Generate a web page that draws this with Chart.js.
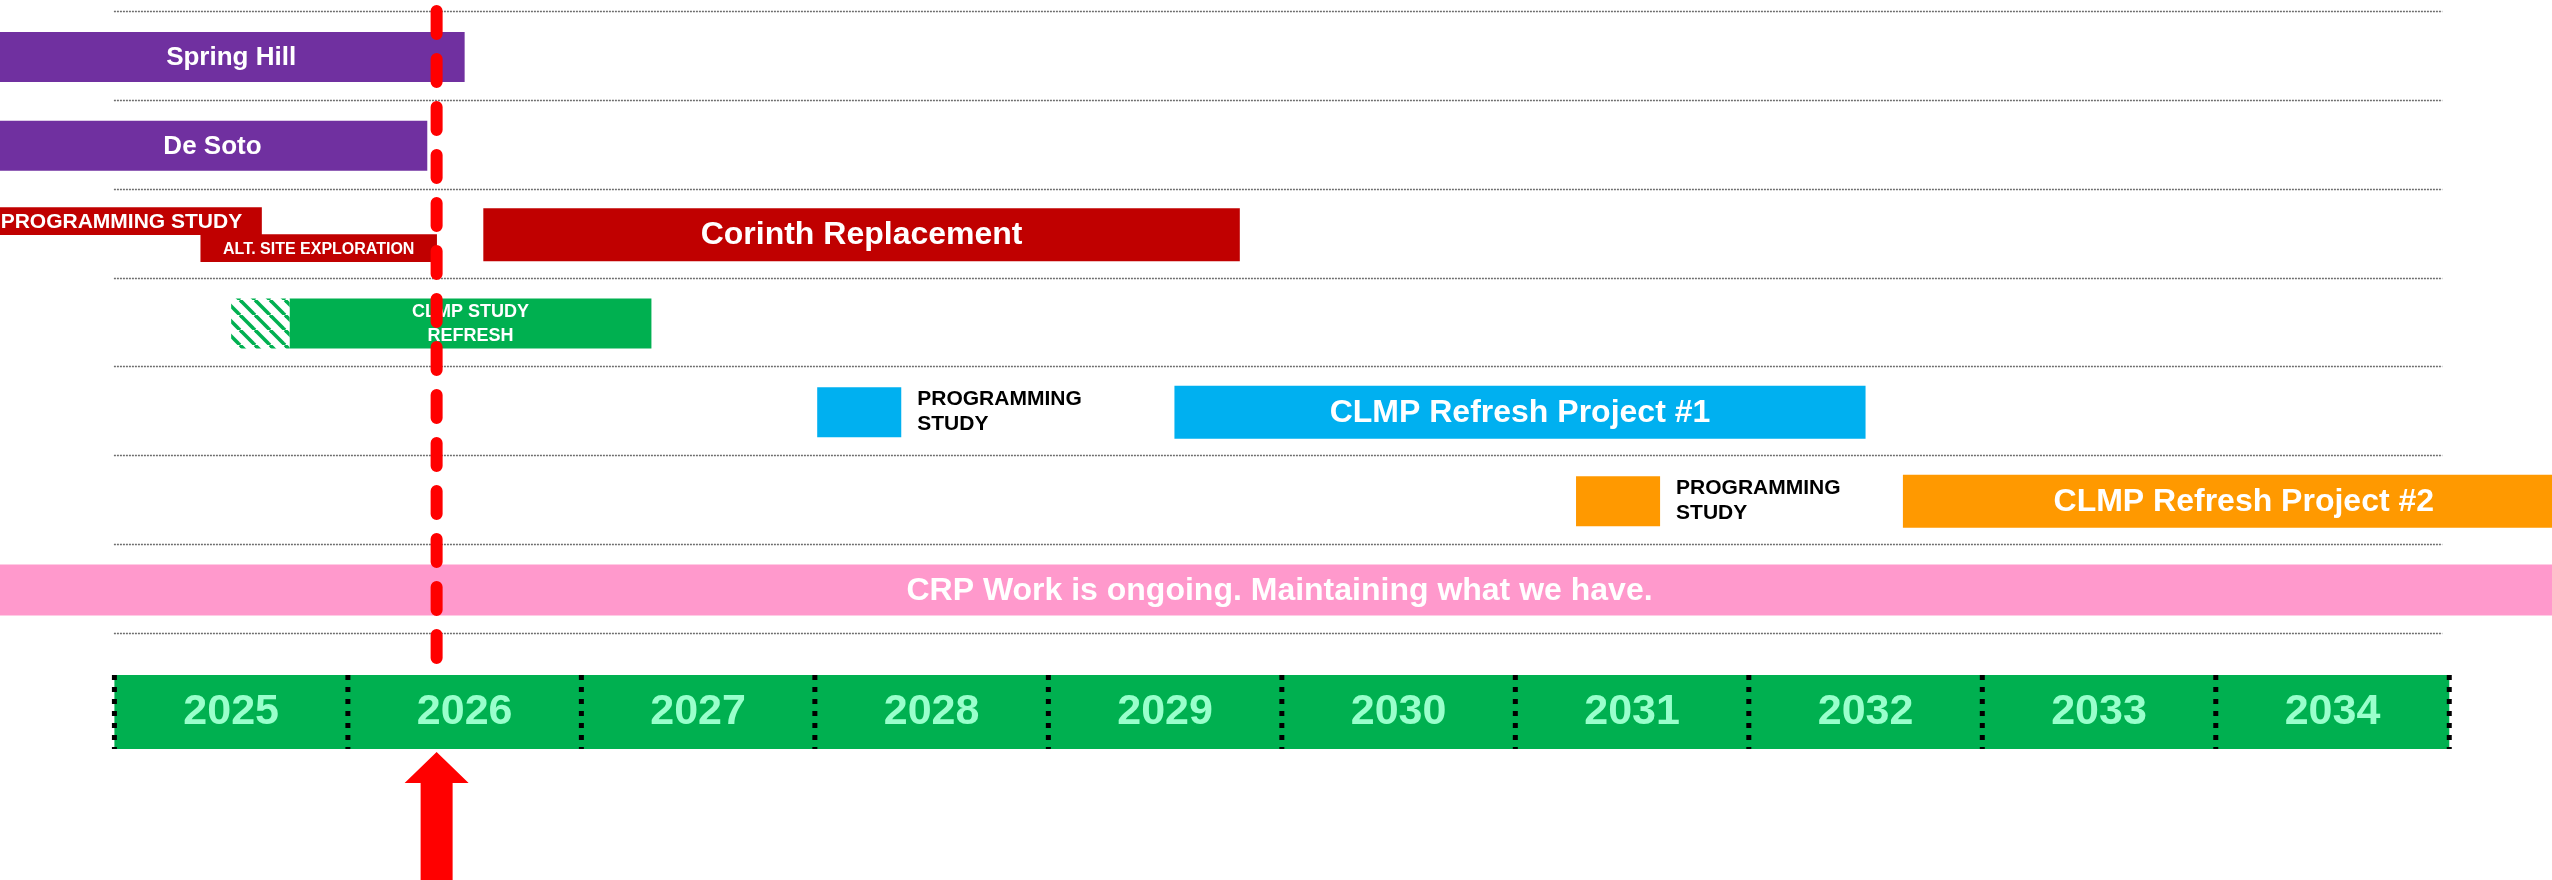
<!DOCTYPE html>
<html><head><meta charset="utf-8">
<script src="https://cdn.jsdelivr.net/npm/chart.js@4.4.1/dist/chart.umd.min.js"></script>
<style>html,body{margin:0;padding:0;background:#fff;overflow:hidden}</style>
</head><body>
<canvas id="c" width="2552" height="880"></canvas>
<script>
// ---------------- data ----------------
const rows = ['Spring Hill', 'De Soto', 'Corinth', 'CLMP Study Refresh', 'CLMP Refresh Project #1', 'CLMP Refresh Project #2', 'CRP Work'];
const years = ['2025', '2026', '2027', '2028', '2029', '2030', '2031', '2032', '2033', '2034'];
const taskNames = ['Spring Hill', 'De Soto', 'PROGRAMMING STUDY', 'ALT. SITE EXPLORATION', 'Corinth Replacement', '',
  'CLMP STUDY\nREFRESH', 'PROGRAMMING\nSTUDY', 'CLMP Refresh Project #1', 'PROGRAMMING\nSTUDY', 'CLMP Refresh Project #2',
  'CRP Work is ongoing. Maintaining what we have.'];
const taskRow   = [0, 1, 2, 2, 2, 3, 3, 4, 4, 5, 5, 6];
const taskStart = [2024.50, 2024.50, 2024.43, 2025.37, 2026.58, 2025.50, 2025.75, 2028.01, 2029.54, 2031.26, 2032.66, 2024.50];
const taskEnd   = [2026.50, 2026.34, 2025.63, 2026.38, 2029.82, 2025.75, 2027.30, 2028.37, 2032.50, 2031.62, 2035.58, 2035.48];
const todayValue = 2026.38;

// ---------------- style ----------------
const FONT = "'Liberation Sans', Arial, Helvetica, sans-serif";
const palette = { purple: '#7030A0', red: '#C00000', green: '#00B050', blue: '#00B0F0', orange: '#FF9900', pink: '#FF99CC' };
const taskColor = ['purple', 'purple', 'red', 'red', 'red', 'hatch', 'green', 'blue', 'blue', 'orange', 'orange', 'pink'];
const taskFont  = [26, 26, 21, 16, 32, 0, 18, 21, 32, 21, 32, 32];
const taskLabelPos = ['in', 'in', 'in', 'in', 'in', 'none', 'in', 'out', 'in', 'out', 'in', 'in'];
const taskThick = [50, 50, 27, 27, 53, 50, 50, 50, 53, 50, 53, 51];
const taskGrouped = [false, false, true, true, false, false, false, false, false, false, false, false];
const padTop = 12.5, padBottom = 245.5;
const rowH = (880 - padTop - padBottom) / rows.length;
const xMin = 2024.51, xMax = 2035.44;

function makeHatch() {
  const s = 15;
  const c = document.createElement('canvas'); c.width = s; c.height = s;
  const g = c.getContext('2d');
  g.fillStyle = '#fff'; g.fillRect(0, 0, s, s);
  g.strokeStyle = palette.green; g.lineWidth = 3.6;
  for (let k = -1; k <= 1; k++) { g.beginPath(); g.moveTo(k * s, 0); g.lineTo(k * s + s, s); g.stroke(); }
  return g.createPattern(c, 'repeat');
}
const hatch = makeHatch();

const datasets = taskNames.map((name, i) => {
  const ds = {
    label: name || 'CLMP study (pending)',
    data: rows.map((r, ri) => ri === taskRow[i] ? [taskStart[i], taskEnd[i]] : null),
    backgroundColor: taskColor[i] === 'hatch' ? hatch : palette[taskColor[i]],
    borderWidth: 0,
    borderSkipped: false,
    grouped: taskGrouped[i],
    stack: 's' + i,
    categoryPercentage: 1
  };
  if (taskGrouped[i]) ds.barThickness = taskThick[i];
  else ds.barPercentage = taskThick[i] / rowH;
  return ds;
});

const gridPlugin = {
  id: 'rowGrid',
  beforeDatasetsDraw(chart) {
    const { ctx, scales: { x, y } } = chart;
    ctx.save();
    ctx.strokeStyle = '#6e6e6e'; ctx.lineWidth = 1.6; ctx.setLineDash([2, 1]);
    const x0 = x.getPixelForValue(2025) - 0.5, x1 = x.getPixelForValue(2034.97);
    for (let i = 0; i <= rows.length; i++) {
      const py = Math.round(y.getPixelForValue(i - 0.5) - 1.5) + 0.5;
      ctx.beginPath(); ctx.moveTo(x0, py); ctx.lineTo(x1, py); ctx.stroke();
    }
    ctx.restore();
  }
};

const labelPlugin = {
  id: 'barLabels',
  afterDatasetsDraw(chart) {
    const ctx = chart.ctx;
    ctx.save();
    ctx.textBaseline = 'middle';
    chart.data.datasets.forEach((ds, i) => {
      if (taskLabelPos[i] === 'none') return;
      const meta = chart.getDatasetMeta(i);
      const el = meta.data[taskRow[i]];
      if (!el) return;
      const p = el.getProps(['x', 'y', 'base'], true);
      const lines = taskNames[i].split('\n');
      ctx.font = 'bold ' + taskFont[i] + 'px ' + FONT;
      if (taskLabelPos[i] === 'in') {
        ctx.fillStyle = '#ffffff'; ctx.textAlign = 'center';
        const cx = (p.x + p.base) / 2;
        const lh = taskFont[i] * 1.33;
        lines.forEach((t, k) => ctx.fillText(t, cx, p.y + 1 + (k - (lines.length - 1) / 2) * lh));
      } else {
        ctx.fillStyle = '#000000'; ctx.textAlign = 'left';
        const lx = Math.max(p.x, p.base) + 16;
        ctx.fillText(lines[0], lx, p.y - 13.5);
        ctx.fillText(lines[1], lx, p.y + 12);
      }
    });
    ctx.restore();
  }
};

const axisPlugin = {
  id: 'yearBand',
  afterDraw(chart) {
    const { ctx, scales: { x } } = chart;
    const bTop = 675, bBot = 749;
    const first = parseInt(years[0], 10);
    const xa = x.getPixelForValue(first), xb = x.getPixelForValue(first + years.length);
    ctx.save();
    ctx.fillStyle = palette.green;
    ctx.fillRect(xa, bTop, xb - xa, bBot - bTop);
    // labels
    ctx.fillStyle = '#99FFCC';
    ctx.font = 'bold 43px ' + FONT;
    ctx.textAlign = 'center'; ctx.textBaseline = 'alphabetic';
    years.forEach((yr, k) => ctx.fillText(yr, x.getPixelForValue(first + k + 0.5), 724));
    // separators
    ctx.strokeStyle = '#000'; ctx.lineWidth = 5; ctx.setLineDash([5, 7]);
    for (let k = 0; k <= years.length; k++) {
      const px = x.getPixelForValue(first + k);
      ctx.beginPath(); ctx.moveTo(px, bTop); ctx.lineTo(px, bBot); ctx.stroke();
    }
    // today line
    const tx = x.getPixelForValue(todayValue);
    ctx.strokeStyle = '#FF0000'; ctx.lineWidth = 12; ctx.lineCap = 'round'; ctx.setLineDash([23, 25]);
    ctx.beginPath(); ctx.moveTo(tx, 11); ctx.lineTo(tx, 658); ctx.stroke();
    // arrow
    ctx.setLineDash([]);
    ctx.fillStyle = '#FF0000';
    ctx.beginPath();
    ctx.moveTo(tx, 752);
    ctx.lineTo(tx + 32, 783);
    ctx.lineTo(tx + 16, 783);
    ctx.lineTo(tx + 16, 880);
    ctx.lineTo(tx - 16, 880);
    ctx.lineTo(tx - 16, 783);
    ctx.lineTo(tx - 32, 783);
    ctx.closePath(); ctx.fill();
    ctx.restore();
  }
};

new Chart(document.getElementById('c'), {
  type: 'bar',
  data: { labels: rows, datasets },
  options: {
    indexAxis: 'y',
    responsive: false,
    animation: false,
    devicePixelRatio: 1,
    layout: { padding: { top: padTop, bottom: padBottom, left: 0, right: 0 } },
    plugins: { legend: { display: false }, tooltip: { enabled: false } },
    scales: {
      x: { type: 'linear', min: xMin, max: xMax, display: false },
      y: { type: 'category', display: false, offset: true, grid: { display: false } }
    }
  },
  plugins: [gridPlugin, labelPlugin, axisPlugin]
});
</script>
</body></html>
